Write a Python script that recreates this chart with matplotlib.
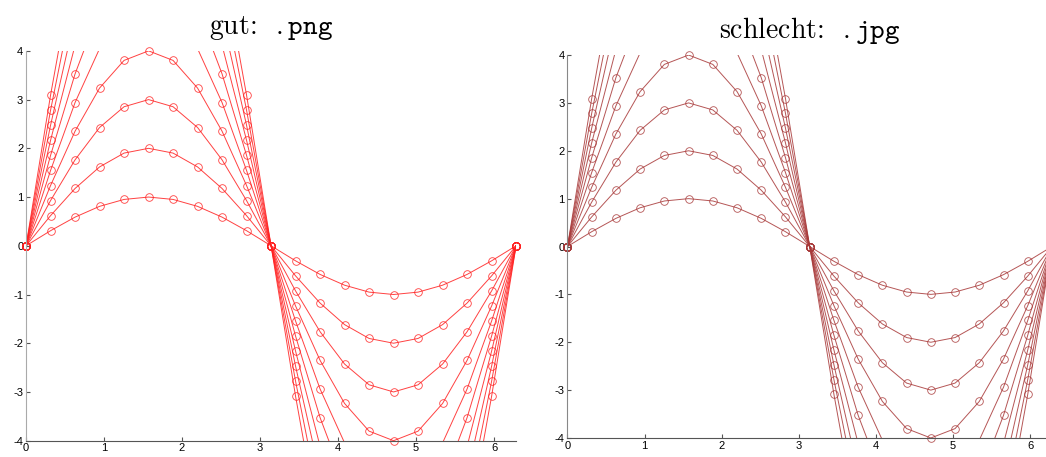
import numpy as np
import matplotlib
matplotlib.use("Agg")
import matplotlib.pyplot as plt

# samples and amplitudes
x = np.linspace(0, 2 * np.pi, 21)
amplitudes = [1, 2, 3, 4, 5, 6, 7, 8, 9, 10]
titles = [r"gut:  $\mathtt{.png}$", r"schlecht:  $\mathtt{.jpg}$"]
colors = ["#ff2020", "#a83838"]
xticks = [0, 1, 2, 3, 4, 5, 6]
yticks = [-4, -3, -2, -1, 0, 1, 2, 3, 4]

plt.rcParams["mathtext.fontset"] = "cm"
plt.rcParams["axes.unicode_minus"] = False
plt.rcParams["font.family"] = ["Liberation Sans", "DejaVu Sans"]

fig = plt.figure(figsize=(10.46, 4.57), dpi=100)
positions = [
    [0.0249, 0.0357, 0.4685, 0.853],
    [0.5425, 0.0416, 0.4632, 0.838],
]
spine_colors = [("#aaaaaa", "#555555"), ("#888888", "#555555")]

for pos, title, col, sc in zip(positions, titles, colors, spine_colors):
    ax = fig.add_axes(pos)
    for k in amplitudes:
        y = k * np.sin(x)
        ax.plot(x, y, color=col, lw=0.7, alpha=0.85)
        # markers only where the point lies inside the y limits
        inside = np.abs(y) <= 4 + 1e-9
        ax.plot(x[inside], y[inside], linestyle="none", marker="o",
                markersize=5.5, markerfacecolor="none", markeredgecolor=col,
                markeredgewidth=0.6, alpha=0.85, clip_on=False)
    ax.set_xlim(0, 2 * np.pi)
    ax.set_ylim(-4, 4)
    ax.set_xticks(xticks)
    ax.set_yticks(yticks)
    ax.tick_params(direction="in", labelsize=8, length=3, pad=2,
                   colors="#555555", labelcolor="black")
    ax.spines["top"].set_visible(False)
    ax.spines["right"].set_visible(False)
    ax.spines["left"].set_color(sc[0])
    ax.spines["bottom"].set_color(sc[1])
    ax.set_title(title, fontsize=20, pad=12, family="cmr10")

fig.savefig("out.png", dpi=100)
